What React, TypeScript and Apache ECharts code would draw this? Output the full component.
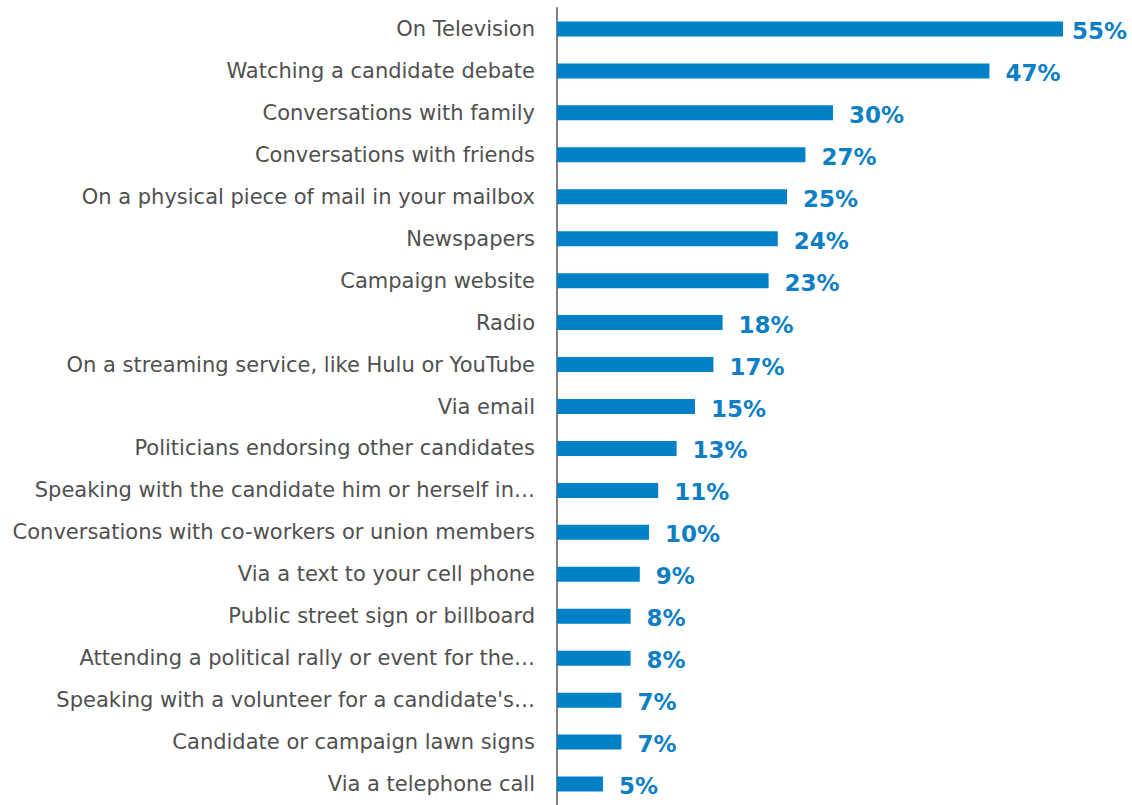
import React, { useEffect, useRef } from "react";
import * as echarts from "echarts";

const categories = [
  "On Television",
  "Watching a candidate debate",
  "Conversations with family",
  "Conversations with friends",
  "On a physical piece of mail in your mailbox",
  "Newspapers",
  "Campaign website",
  "Radio",
  "On a streaming service, like Hulu or YouTube",
  "Via email",
  "Politicians endorsing other candidates",
  "Speaking with the candidate him or herself in…",
  "Conversations with co-workers or union members",
  "Via a text to your cell phone",
  "Public street sign or billboard",
  "Attending a political rally or event for the…",
  "Speaking with a volunteer for a candidate's…",
  "Candidate or campaign lawn signs",
  "Via a telephone call",
];

const values = [55, 47, 30, 27, 25, 24, 23, 18, 17, 15, 13, 11, 10, 9, 8, 8, 7, 7, 5];

export default function App() {
  const ref = useRef<HTMLDivElement>(null);
  useEffect(() => {
    if (!ref.current) return;
    const chart = echarts.init(ref.current, undefined, { renderer: "svg" });
    chart.setOption({
      animation: false,
      grid: { left: 557, top: 8, width: 552, bottom: 0, containLabel: false },
      xAxis: {
        type: "value",
        min: 0,
        max: 60,
        show: false,
      },
      yAxis: {
        type: "category",
        data: categories,
        inverse: true,
        axisLine: { show: true, lineStyle: { color: "#808080", width: 2 } },
        axisTick: { show: false },
        axisLabel: {
          color: "#505050",
          fontFamily: "DejaVu Sans",
          fontSize: 21,
          margin: 22,
        },
      },
      series: [
        {
          type: "bar",
          data: values.map((v, i) =>
            i === 0 ? { value: v, label: { distance: 9 } } : v
          ),
          barWidth: 15,
          itemStyle: { color: "#0080c6" },
          label: {
            show: true,
            position: "right",
            distance: 16,
            offset: [0, 2],
            formatter: "{c}%",
            color: "#0e7fc4",
            fontWeight: "bold",
            fontFamily: "DejaVu Sans",
            fontSize: 23,
          },
        },
      ],
    });
    return () => chart.dispose();
  }, []);
  return <div ref={ref} style={{ width: 1132, height: 805, position: "absolute", left: 0, top: 0 }} />;
}
